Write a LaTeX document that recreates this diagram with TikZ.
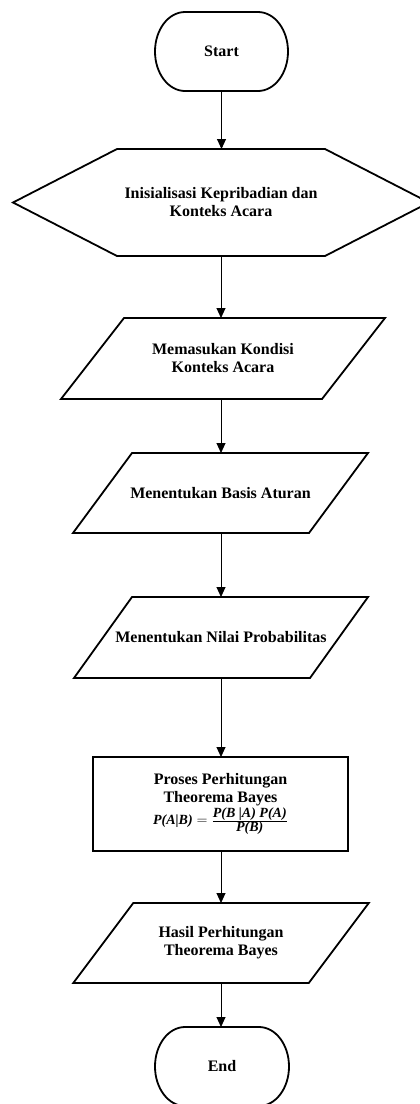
\documentclass[tikz,border=0pt]{standalone}
\usepackage{fontspec}
\setmainfont{Liberation Serif}
\usetikzlibrary{arrows.meta}
\newcommand{\paraline}[2]{\draw[shapeline] ([xshift=#2]#1.north west) -- ([xshift=#2]#1.north east) -- ([xshift=-#2]#1.south east) -- ([xshift=-#2]#1.south west) -- cycle;}
\newcommand{\termline}[1]{\draw[shapeline] ([xshift=30pt]#1.north west) -- ([xshift=-30pt]#1.north east) arc[start angle=-90, end angle=90, x radius=30, y radius=39.5] -- ([xshift=30pt]#1.south west) arc[start angle=90, end angle=270, x radius=30, y radius=39.5] -- cycle;}
\begin{document}
\begin{tikzpicture}[x=1pt,y=-1pt,
  every node/.style={font=\bfseries\fontsize{16}{18}\selectfont, inner sep=0pt, outer sep=0pt, align=center, text=black},
  shapeline/.style={draw=black, line width=1.8pt, line join=miter},
  flow/.style={draw=black, line width=0.9pt, -{Triangle[length=10pt,width=9pt]}}]
\useasboundingbox (0,0) rectangle (420,1104);
\fill[white] (0,0) rectangle (420,1104);

\node[minimum width=133pt, minimum height=79pt] (start) at (221.5,51.5) {Start};
\termline{start}

\node[minimum width=208pt, minimum height=107pt] (hex) at (221,202.5) {Inisialisasi Kepribadian dan\\Konteks Acara};
\draw[shapeline] (hex.north west) -- (hex.north east) -- ([xshift=104pt]hex.east) -- (hex.south east) -- (hex.south west) -- ([xshift=-104pt]hex.west) -- cycle;

\node[minimum width=261pt, minimum height=81pt] (p1) at (223,358.5) {Memasukan Kondisi\\Konteks Acara};
\paraline{p1}{31.5pt}

\node[minimum width=236pt, minimum height=80pt] (p2) at (220.5,493) {Menentukan Basis Aturan};
\paraline{p2}{29.5pt}

\node[minimum width=236pt, minimum height=81pt] (p3) at (221,637.5) {Menentukan Nilai Probabilitas};
\paraline{p3}{29pt}

\node[shapeline, minimum width=255pt, minimum height=94pt] (proc) at (220.5,804) {Proses Perhitungan\\Theorema Bayes\\[1pt]{\fontsize{14}{16}\selectfont $\mbox{\bfseries\itshape P(A|B)} = \frac{\mbox{\bfseries\itshape P(B |A) P(A)}}{\mbox{\bfseries\itshape P(B)}}$}};

\node[minimum width=235.5pt, minimum height=80pt] (p4) at (221,943) {Hasil Perhitungan\\Theorema Bayes};
\paraline{p4}{30pt}

\node[minimum width=134pt, minimum height=79pt] (end) at (222,1066.5) {End};
\termline{end}

\draw[flow] (start.south) -- (start.south |- hex.north);
\draw[flow] (hex.south) -- (hex.south |- p1.north);
\draw[flow] (hex.south |- p1.south) -- (hex.south |- p2.north);
\draw[flow] (hex.south |- p2.south) -- (hex.south |- p3.north);
\draw[flow] (hex.south |- p3.south) -- (hex.south |- proc.north);
\draw[flow] (hex.south |- proc.south) -- (hex.south |- p4.north);
\draw[flow] (hex.south |- p4.south) -- (hex.south |- end.north);
\end{tikzpicture}
\end{document}
